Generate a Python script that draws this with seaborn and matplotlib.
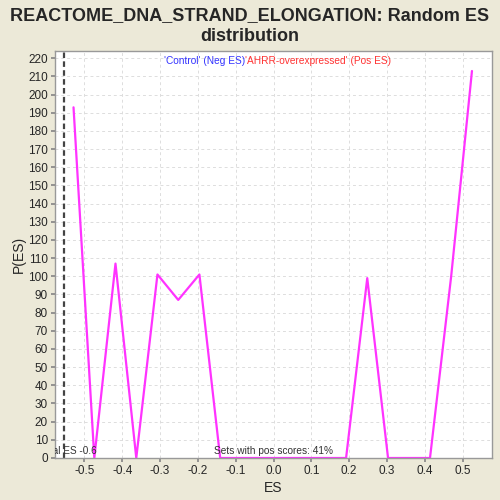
import matplotlib
matplotlib.use("Agg")
import matplotlib.pyplot as plt
import seaborn as sns
import numpy as np
import pandas as pd

# Random ES distribution
es_values = [-0.529, -0.474, -0.418, -0.363, -0.307, -0.252, -0.196, -0.141,
             -0.085, -0.030, 0.026, 0.081, 0.137, 0.192, 0.248, 0.303,
             0.359, 0.414, 0.470, 0.525]
p_es = [193, 0, 107, 0, 101, 87, 101, 0,
        0, 0, 0, 0, 0, 0, 99, 0,
        0, 0, 100, 213]
real_es = -0.554
x_ticks = [-0.5, -0.4, -0.3, -0.2, -0.1, 0.0, 0.1, 0.2, 0.3, 0.4, 0.5]
y_ticks = list(range(0, 221, 10))

df = pd.DataFrame({"ES": es_values, "P(ES)": p_es})

sns.set_theme(style="white")
plt.rcParams['font.family'] = ['Liberation Sans', 'DejaVu Sans']

bg = "#ECE9D8"
fig = plt.figure(figsize=(5, 5), dpi=100, facecolor=bg)
ax = fig.add_axes([0.110, 0.084, 0.874, 0.814])
ax.set_facecolor("white")

sns.lineplot(data=df, x="ES", y="P(ES)", ax=ax, color="#FF33FF", linewidth=1.6)
ax.axvline(real_es, color="#444444", linestyle=(0, (2.5, 1.5)), linewidth=1.6)

ax.set_xlim(-0.578, 0.578)
ax.set_ylim(0, 224)
ax.set_xticks(x_ticks)
ax.set_xticklabels([f"{t:.1f}" for t in x_ticks])
ax.set_yticks(y_ticks)
ax.tick_params(axis="both", labelsize=8.5, length=3, color="#888888", pad=2,
               direction="out", bottom=True, left=True)
ax.grid(True, color="#DDDDDD", linestyle=(0, (3, 3)), linewidth=0.7)
for s in ax.spines.values():
    s.set_color("#999999")
    s.set_linewidth(1)

ax.set_xlabel("ES", fontsize=10, labelpad=3)
ax.set_ylabel("P(ES)", fontsize=10, labelpad=2)

fig.suptitle("REACTOME_DNA_STRAND_ELONGATION: Random ES\ndistribution",
             fontsize=13, fontweight="bold", y=0.985, linespacing=1.3)

# legend-like labels at top
fig.text(0.490, 0.872, "'Control' (Neg ES)", color="#3333FF", fontsize=7.3,
         ha="right", va="baseline")
fig.text(0.490, 0.872, "'AHRR-overexpressed' (Pos ES)", color="#FF3333",
         fontsize=7.3, ha="left", va="baseline")

ax.text(-0.468, 1, "Real ES -0.6", fontsize=7.2, color="#333333",
        ha="right", va="bottom", clip_on=True)
ax.text(0.0, 1, "Sets with pos scores: 41%", fontsize=7.3, color="#333333",
        ha="center", va="bottom")

fig.savefig("out.png", dpi=100, facecolor=bg)
